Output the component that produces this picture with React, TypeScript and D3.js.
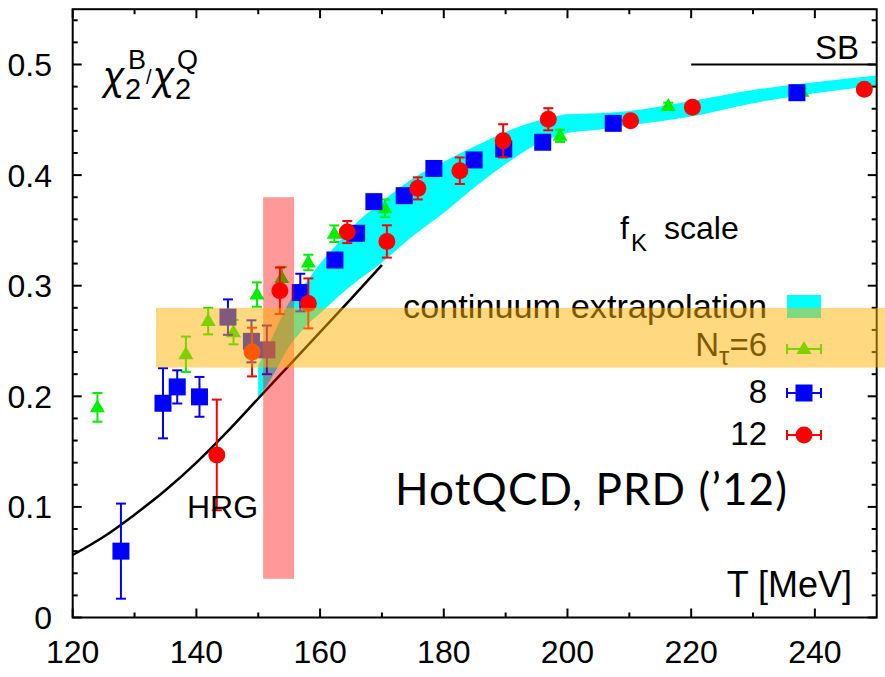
import React from 'react';
import * as d3 from 'd3';

// continuum extrapolation band (T, lower, upper)
const bandT = [150, 152, 155, 158, 160, 162.5, 165, 170, 175, 180, 185, 190, 195, 198, 200, 205, 210, 220, 230, 240, 250];
const bandLo = [0.199, 0.215, 0.245, 0.265, 0.275, 0.288, 0.3, 0.321, 0.345, 0.366, 0.389, 0.41, 0.428, 0.435, 0.438, 0.441, 0.445, 0.453, 0.465, 0.474, 0.481];
const bandHi = [0.228, 0.25, 0.285, 0.305, 0.32, 0.336, 0.352, 0.376, 0.397, 0.412, 0.426, 0.439, 0.449, 0.453, 0.455, 0.456, 0.458, 0.467, 0.477, 0.484, 0.49];

// HRG curve
const hrgT = [120, 125, 130, 135, 140, 145, 150, 155, 160, 165, 170];
const hrgV = [0.0565, 0.073, 0.093, 0.115, 0.14, 0.168, 0.198, 0.228, 0.258, 0.288, 0.3187];

// N_tau = 6
const nt6T = [124, 138.3, 141.9, 146.0, 149.8, 153.8, 158.1, 162.3, 170.5, 198.8, 216.3, 237.9];
const nt6V = [0.19, 0.238, 0.268, 0.258, 0.292, 0.307, 0.321, 0.347, 0.37, 0.4355, 0.4625, 0.4754];
const nt6E = [0.013, 0.016, 0.012, 0.011, 0.011, 0.01, 0.007, 0.0075, 0.008, 0.0055, 0.003, 0.003];

// N_tau = 8
const nt8T = [127.8, 134.6, 136.9, 140.5, 145.1, 148.9, 151.4, 156.8, 162.4, 165.9, 168.7, 173.6, 178.4, 184.9, 189.7, 196.0, 207.4, 237.1];
const nt8V = [0.06, 0.1937, 0.2085, 0.1995, 0.2716, 0.2497, 0.242, 0.2938, 0.3232, 0.3474, 0.376, 0.3814, 0.406, 0.4137, 0.4236, 0.4297, 0.4468, 0.4745];
const nt8E = [0.043, 0.0317, 0.015, 0.018, 0.016, 0.019, 0.022, 0.017, 0.005, 0.004, 0.004, 0.004, 0.004, 0.004, 0.004, 0.004, 0.003, 0.003];

// N_tau = 12
const nt12T = [143.3, 149.0, 153.5, 158.1, 164.4, 170.8, 175.8, 182.6, 189.6, 196.9, 210.2, 220.2, 248.0];
const nt12V = [0.147, 0.24, 0.2954, 0.284, 0.3485, 0.34, 0.388, 0.404, 0.431, 0.4505, 0.4492, 0.4613, 0.4776];
const nt12E = [0.05, 0.022, 0.021, 0.0226, 0.01, 0.0146, 0.01, 0.012, 0.015, 0.01, 0.004, 0.004, 0.004];

const xTickLabels = ['120', '140', '160', '180', '200', '220', '240'];
const yTickLabels = ['0', '0.1', '0.2', '0.3', '0.4', '0.5'];

// highlight regions
const tcRange = [150.8, 155.8];
const tcYRange = [0.035, 0.38];
const ratioRange = [0.226, 0.28];

const W = 885;
const H = 677;
const FONT = '"Liberation Sans", Arial, Helvetica, sans-serif';
const CHI_FONT = '"Noto Sans", "DejaVu Sans", sans-serif';
const CYAN = '#00ffff';
const GREEN = '#00ee00';
const BLUE = '#0000ff';
const RED = '#ff0000';

export default function App() {
  const x = d3.scaleLinear().domain([120, 250]).range([72.7, 876.7]);
  const y = d3.scaleLinear().domain([0, 0.55]).range([617.5, 9.2]);
  const [x0, x1] = x.range();
  const [y0, y1] = y.range();

  const band = d3.area<number>()
    .x((_, i) => x(bandT[i]))
    .y0((_, i) => y(bandLo[i]))
    .y1((_, i) => y(bandHi[i]))
    .curve(d3.curveMonotoneX);

  const hrg = d3.line<number>()
    .x((_, i) => x(hrgT[i]))
    .y((_, i) => y(hrgV[i]))
    .curve(d3.curveMonotoneX);

  const xMajor = xTickLabels.map(Number);
  const xMinor = d3.range(130, 250, 20);
  const yMajor = yTickLabels.map(Number);
  const yMinor = d3.range(1, 28).map(k => k * 0.02).filter(v => Math.abs(v * 10 - Math.round(v * 10)) > 1e-6);

  const errBar = (cx: number, v: number, e: number, color: string, key: string) => {
    const top = y(v + e);
    const bot = y(v - e);
    return (
      <g key={key} stroke={color} strokeWidth={2}>
        <line x1={cx} x2={cx} y1={top} y2={bot} />
        <line x1={cx - 5} x2={cx + 5} y1={top} y2={top} />
        <line x1={cx - 5} x2={cx + 5} y1={bot} y2={bot} />
      </g>
    );
  };

  const tri = (cx: number, cy: number) => `M${cx},${cy - 8}L${cx + 7.5},${cy + 5}L${cx - 7.5},${cy + 5}Z`;

  const legendX0 = 787;
  const legendX1 = 821;
  const legendXc = (legendX0 + legendX1) / 2;
  const hBar = (cy: number, color: string) => (
    <g stroke={color} strokeWidth={2}>
      <line x1={legendX0} x2={legendX1} y1={cy} y2={cy} />
      <line x1={legendX0} x2={legendX0} y1={cy - 5} y2={cy + 5} />
      <line x1={legendX1} x2={legendX1} y1={cy - 5} y2={cy + 5} />
    </g>
  );

  return (
    <svg width={W} height={H} style={{ position: 'absolute', left: 0, top: 0, background: '#fff' }} fontFamily={FONT}>
      {/* continuum band */}
      <path d={band(bandT) || ''} fill={CYAN} />

      {/* HRG */}
      <path d={hrg(hrgT) || ''} fill="none" stroke="#000" strokeWidth={2.5} />

      {/* SB limit */}
      <line x1={x(220)} x2={x(250)} y1={y(0.5)} y2={y(0.5)} stroke="#000" strokeWidth={2} />

      {/* frame and ticks */}
      <rect x={x0} y={y1} width={x1 - x0} height={y0 - y1} fill="none" stroke="#000" strokeWidth={2} />
      <g stroke="#000" strokeWidth={2}>
        {xMajor.map(t => (
          <g key={'xM' + t}>
            <line x1={x(t)} x2={x(t)} y1={y0} y2={y0 - 9} />
            <line x1={x(t)} x2={x(t)} y1={y1} y2={y1 + 9} />
          </g>
        ))}
        {xMinor.map(t => (
          <g key={'xm' + t}>
            <line x1={x(t)} x2={x(t)} y1={y0} y2={y0 - 5} />
            <line x1={x(t)} x2={x(t)} y1={y1} y2={y1 + 5} />
          </g>
        ))}
        {yMajor.map(v => (
          <g key={'yM' + v}>
            <line x1={x0} x2={x0 + 9} y1={y(v)} y2={y(v)} />
            <line x1={x1} x2={x1 - 9} y1={y(v)} y2={y(v)} />
          </g>
        ))}
        {yMinor.map(v => (
          <g key={'ym' + v}>
            <line x1={x0} x2={x0 + 5} y1={y(v)} y2={y(v)} />
            <line x1={x1} x2={x1 - 5} y1={y(v)} y2={y(v)} />
          </g>
        ))}
      </g>
      <g fontSize={32} fill="#000">
        {xTickLabels.map(l => (
          <text key={'xl' + l} x={x(+l)} y={663} textAnchor="middle">{l}</text>
        ))}
        {yTickLabels.map(l => (
          <text key={'yl' + l} x={52} y={y(+l) + 11.5} textAnchor="end">{l}</text>
        ))}
      </g>

      {/* N_tau = 6 */}
      {nt6T.map((t, i) => errBar(x(t), nt6V[i], nt6E[i], GREEN, 'e6' + i))}
      {nt6T.map((t, i) => <path key={'p6' + i} d={tri(x(t), y(nt6V[i]))} fill={GREEN} />)}

      {/* N_tau = 8 */}
      {nt8T.map((t, i) => errBar(x(t), nt8V[i], nt8E[i], BLUE, 'e8' + i))}
      {nt8T.map((t, i) => <rect key={'p8' + i} x={x(t) - 8.5} y={y(nt8V[i]) - 8.5} width={17} height={17} fill={BLUE} />)}

      {/* N_tau = 12 */}
      {nt12T.map((t, i) => errBar(x(t), nt12V[i], nt12E[i], RED, 'e12' + i))}
      {nt12T.map((t, i) => <circle key={'p12' + i} cx={x(t)} cy={y(nt12V[i])} r={8.5} fill={RED} />)}

      {/* legend */}
      <g fontSize={33} fill="#000" textAnchor="end">
        <text x={767} y={318} textLength={364} lengthAdjust="spacingAndGlyphs">continuum extrapolation</text>
        <text x={767} y={356}>
          N<tspan fontSize={26} dy={9}>τ</tspan><tspan dy={-9}>=6</tspan>
        </text>
        <text x={767} y={403}>8</text>
        <text x={767} y={445}>12</text>
      </g>
      <rect x={legendX0} y={295} width={legendX1 - legendX0} height={23} fill={CYAN} />
      {hBar(349, GREEN)}
      <path d={tri(legendXc, 349)} fill={GREEN} />
      {hBar(393, BLUE)}
      <rect x={legendXc - 8.5} y={393 - 8.5} width={17} height={17} fill={BLUE} />
      {hBar(435, RED)}
      <circle cx={legendXc} cy={435} r={8.5} fill={RED} />

      {/* labels */}
      <g fill="#000">
        <text x={103} y={89} fontSize={38} fontFamily={CHI_FONT} fontStyle="italic">χ</text>
        <text x={125} y={99} fontSize={29}>2</text>
        <text x={128} y={69} fontSize={27}>B</text>
        <text x={146} y={84} fontSize={20}>/</text>
        <text x={153} y={89} fontSize={38} fontFamily={CHI_FONT} fontStyle="italic">χ</text>
        <text x={175} y={99} fontSize={29}>2</text>
        <text x={177} y={69} fontSize={27}>Q</text>

        <text x={815} y={59} fontSize={33}>SB</text>
        <text x={187} y={518} fontSize={32}>HRG</text>
        <text x={852} y={597} fontSize={36} textAnchor="end">T [MeV]</text>

        <text x={620} y={239} fontSize={32}>f</text>
        <text x={631} y={251} fontSize={24}>K</text>
        <text x={664} y={239} fontSize={32}>scale</text>

        <text x={395} y={505} fontSize={44} fontFamily="Lato, 'Open Sans', sans-serif" textLength={392} lengthAdjust="spacing">HotQCD, PRD (’12)</text>
      </g>

      {/* highlight overlays */}
      <rect
        x={x(tcRange[0])}
        y={y(tcYRange[1])}
        width={x(tcRange[1]) - x(tcRange[0])}
        height={y(tcYRange[0]) - y(tcYRange[1])}
        fill="rgb(255,0,0)"
        fillOpacity={0.4}
      />
      <rect
        x={156}
        y={y(ratioRange[1])}
        width={W - 156}
        height={y(ratioRange[0]) - y(ratioRange[1])}
        fill="rgb(255,178,0)"
        fillOpacity={0.5}
      />
    </svg>
  );
}
